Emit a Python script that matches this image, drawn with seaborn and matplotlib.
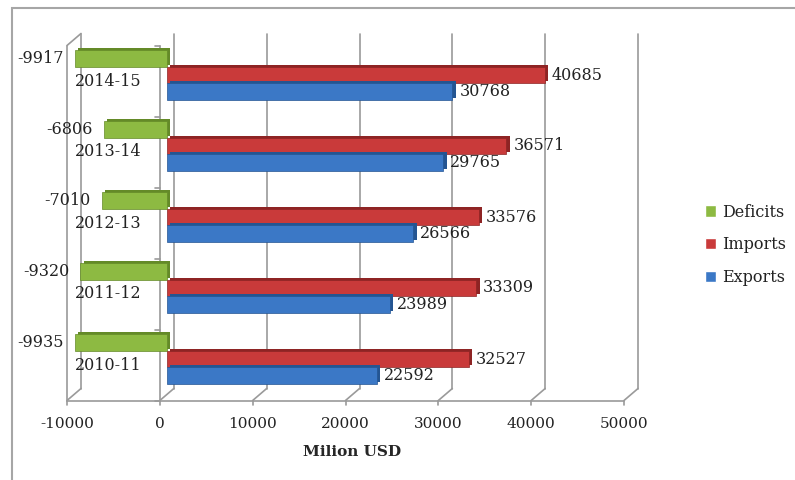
import numpy as np
import pandas as pd
import seaborn as sns
import matplotlib.pyplot as plt
import matplotlib.patheffects as pe
from matplotlib.transforms import Affine2D, ScaledTranslation
from matplotlib.patches import Rectangle

# data
years = ["2014-15", "2013-14", "2012-13", "2011-12", "2010-11"]
deficits = [-9917, -6806, -7010, -9320, -9935]
imports = [40685, 36571, 33576, 33309, 32527]
exports = [30768, 29765, 26566, 23989, 22592]
series = ["Deficits", "Imports", "Exports"]
x_ticks = [-10000, 0, 10000, 20000, 30000, 40000, 50000]

colors = {"Deficits": "#8dba42", "Imports": "#c93a3a", "Exports": "#3b78c6"}
sides = {"Deficits": "#648a28", "Imports": "#8e2424", "Exports": "#245592"}

df = pd.DataFrame({
    "Year": years * 3,
    "Series": np.repeat(series, len(years)),
    "Value": deficits + imports + exports,
})

sns.set_style("white")
plt.rcParams["font.family"] = ["DejaVu Serif"]
plt.rcParams["text.color"] = "#222222"

fig = plt.figure(figsize=(7.95, 4.8), dpi=100)
ax = fig.add_axes([74 / 795, 1 - 394.5 / 480, 557 / 795, 355 / 480])

sns.barplot(data=df, x="Value", y="Year", hue="Series", order=years,
            hue_order=series, palette=colors, orient="h", width=0.7,
            gap=0, saturation=1, ax=ax)

ax.set_xlim(-10000, 50000)
ax.set_ylim(4.5, -0.5)
for s in ax.spines.values():
    s.set_color("none")
ax.spines["left"].set_position(("data", 0))

# legend first (flat handles)
handles, labels = ax.get_legend_handles_labels()
ax.legend(handles, labels, loc="center left", bbox_to_anchor=(705 / 795, 1 - 245 / 480),
          bbox_transform=fig.transFigure, frameon=False, borderpad=0, borderaxespad=0,
          handlelength=0.7, handleheight=0.7, handletextpad=0.4, labelspacing=1.0,
          fontsize=11.5)

# 3D look on the bars + value labels
for cont, name in zip(ax.containers, series):
    for p in cont:
        p.set_edgecolor(sides[name])
        p.set_linewidth(0.5)
        p.set_zorder(3)
        p.set_path_effects([pe.SimplePatchShadow(offset=(2.6, 1.4), shadow_rgbFace=sides[name],
                                                 alpha=1.0), pe.Normal()])
    ax.bar_label(cont, labels=[str(int(v)) for v in cont.datavalues],
                 padding=8 if name == "Deficits" else 5, fontsize=11.5, color="#222222")

# pseudo-3D frame: front floor, back wall gridlines, diagonals
grid = "#9a9a9a"
xtr = ax.get_xaxis_transform()
dpx = fig.dpi_scale_trans
front = ScaledTranslation(-7 / 100, -6 / 100, dpx)
back = ScaledTranslation(7 / 100, 6 / 100, dpx)
a = 7 / (557 / 60000)
b = 6 / 355
depth_lo = Affine2D(np.array([[1, a, 0], [0, b, 0], [0, 0, 1]])) + xtr
depth_hi = Affine2D(np.array([[1, a, 0], [0, b, 1], [0, 0, 1]])) + xtr

kw = dict(color=grid, lw=1.2, clip_on=False, zorder=0.5)
ax.plot([x_ticks[0], x_ticks[-1]], [0, 0], transform=xtr + front, **kw)
for t in x_ticks:
    ax.plot([t, t], [0, 1], transform=xtr + back, **kw)
    ax.plot([t, t], [-1, 1], transform=depth_lo, **kw)
    ax.plot([t, t], [0, -0.012], transform=xtr + front, **kw)
ax.plot([x_ticks[0], x_ticks[0]], [0, 1], transform=xtr + front, **kw)
ax.plot([x_ticks[0], x_ticks[0]], [-1, 1], transform=depth_hi, **kw)
# category axis at zero
ax.plot([0, 0], [0, 1], transform=xtr + front, **kw)
for k in range(len(years) + 1):
    ax.plot([0, -560], [k - 0.5, k - 0.5], transform=ax.transData + front, **kw)

# tick labels
ax.set_xticks(x_ticks)
ax.set_xticklabels([str(t) for t in x_ticks])
ax.tick_params(axis="x", length=0, pad=16, labelsize=11, labelcolor="#222222")
for lab in ax.get_xticklabels():
    lab.set_transform(lab.get_transform() + ScaledTranslation(-7 / 100, 0, dpx))
ax.set_yticks(range(len(years)))
ax.set_yticklabels(years)
ax.tick_params(axis="y", length=0, pad=18, labelsize=11.5, labelcolor="#222222")
for lab in ax.get_yticklabels():
    lab.set_transform(lab.get_transform() + ScaledTranslation(0, -4 / 100, dpx))

ax.set_ylabel("")
ax.set_xlabel("Milion USD", fontsize=11, fontweight="bold", labelpad=10)

# outer frame of the figure
fig.patches.append(Rectangle((12 / 795, -0.1), 1.1, 1.1 - 8 / 480,
                             transform=fig.transFigure, fill=False,
                             edgecolor="#a6a6a6", lw=1.5))

fig.savefig("out.png", dpi=100)
